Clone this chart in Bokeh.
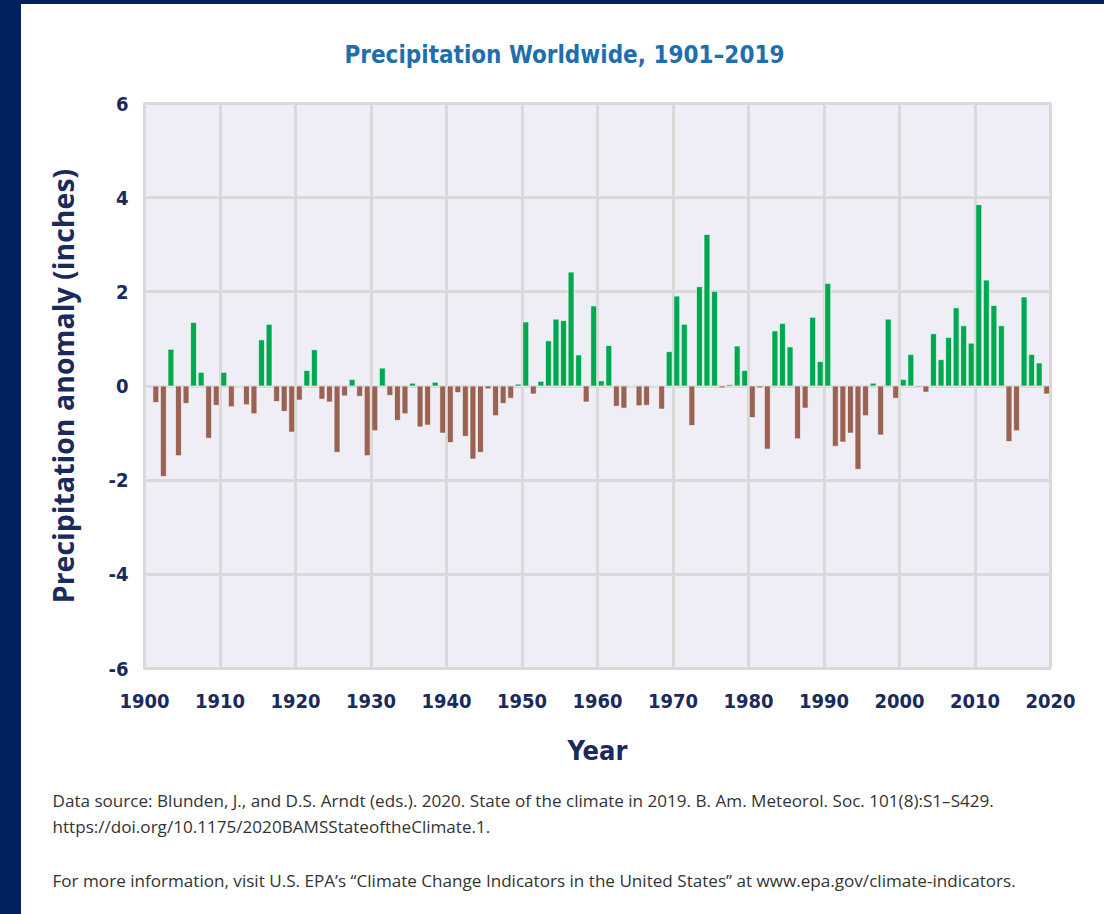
from bokeh.plotting import figure
from bokeh.models import ColumnDataSource, Title, Div, FixedTicker
from bokeh.layouts import row, column
from bokeh.transform import dodge
from bokeh.embed import file_html
from bokeh.resources import INLINE

# ---- data ----
years = list(range(1901, 2020))
anomaly = [
    -0.35, -1.92, 0.78, -1.48, -0.37, 1.35, 0.29, -1.11, -0.41, 0.29,   # 1901-1910
    -0.44, 0.01, -0.40, -0.59, 0.98, 1.31, -0.33, -0.54, -0.98, -0.30,  # 1911-1920
    0.33, 0.77, -0.28, -0.34, -1.41, -0.21, 0.14, -0.22, -1.48, -0.95,  # 1921-1930
    0.38, -0.20, -0.73, -0.59, 0.06, -0.87, -0.83, 0.08, -1.00, -1.20,  # 1931-1940
    -0.14, -1.07, -1.55, -1.41, -0.06, -0.63, -0.37, -0.26, 0.04, 1.36, # 1941-1950
    -0.17, 0.10, 0.96, 1.42, 1.39, 2.42, 0.66, -0.34, 1.70, 0.11,       # 1951-1960
    0.86, -0.43, -0.47, 0.01, -0.42, -0.41, 0.01, -0.49, 0.73, 1.91,    # 1961-1970
    1.31, -0.84, 2.11, 3.22, 2.01, -0.04, 0.03, 0.85, 0.33, -0.67,      # 1971-1980
    -0.04, -1.34, 1.17, 1.33, 0.83, -1.12, -0.47, 1.46, 0.52, 2.18,     # 1981-1990
    -1.28, -1.19, -1.00, -1.77, -0.63, 0.06, -1.04, 1.42, -0.26, 0.14,  # 1991-2000
    0.67, -0.02, -0.13, 1.11, 0.56, 1.03, 1.66, 1.28, 0.91, 3.85,       # 2001-2010
    2.25, 1.71, 1.28, -1.18, -0.95, 1.89, 0.67, 0.49, -0.17,            # 2011-2019
]
x_ticks = [1900, 1910, 1920, 1930, 1940, 1950, 1960, 1970, 1980, 1990, 2000, 2010, 2020]
y_ticks = [-6, -4, -2, 0, 2, 4, 6]
y_tick_labels = ["-6", "-4", "-2", "0", "2", "4", "6"]

title_text = "Precipitation Worldwide, 1901\u20132019"
x_label = "Year"
y_label = "Precipitation anomaly (inches)"
note1 = ("Data source: Blunden, J., and D.S. Arndt (eds.). 2020. State of the climate in 2019. "
         "B. Am. Meteorol. Soc. 101(8):S1\u2013S429.")
note2 = "https://doi.org/10.1175/2020BAMSStateoftheClimate.1."
note3 = ("For more information, visit U.S. EPA\u2019s \u201cClimate Change Indicators in the United States\u201d "
         "at www.epa.gov/climate-indicators.")

# ---- styles ----
GREEN = "#00a94f"
BROWN = "#9a6252"
NAVY = "#1b2a5c"
FRAME = "#002060"
TITLE_BLUE = "#1f6fae"
GRID = "#d9d9d9"
BG = "#efedf6"
COND = "DejaVu Sans Condensed, Roboto"

colors = [GREEN if v >= 0 else BROWN for v in anomaly]
src = ColumnDataSource(dict(year=years, anomaly=anomaly, color=colors))

p = figure(width=1083, height=910, x_range=(1900, 2020), y_range=(-6, 6),
           output_backend="svg", toolbar_location=None,
           min_border_left=123, min_border_right=54, min_border_top=99, min_border_bottom=246)

p.vbar(x=dodge("year", 0.5), top="anomaly", bottom=0, width=0.78, source=src,
       fill_color="color", line_color="white", line_alpha=0.6, line_width=1)

p.background_fill_color = BG
p.border_fill_color = "white"
p.outline_line_color = GRID
p.outline_line_width = 3

p.xaxis.ticker = FixedTicker(ticks=x_ticks)
p.yaxis.ticker = FixedTicker(ticks=y_ticks)
p.xgrid.ticker = FixedTicker(ticks=x_ticks)
p.ygrid.ticker = FixedTicker(ticks=y_ticks)
p.yaxis.major_label_overrides = {t: s for t, s in zip(y_ticks, y_tick_labels)}
for g in (p.xgrid, p.ygrid):
    g.grid_line_color = GRID
    g.grid_line_width = 3

for ax in (p.xaxis, p.yaxis):
    ax.axis_line_color = None
    ax.major_tick_line_color = None
    ax.minor_tick_line_color = None
    ax.major_label_text_font = COND
    ax.major_label_text_font_style = "bold"
    ax.major_label_text_font_size = "20px"
    ax.major_label_text_color = NAVY
    ax.axis_label_text_color = NAVY
    ax.axis_label_text_font_style = "bold"

p.xaxis.major_label_standoff = 19
p.yaxis.major_label_standoff = 10
p.xaxis.axis_label = x_label
p.xaxis.axis_label_text_font = COND
p.xaxis.axis_label_text_font_size = "27px"
p.xaxis.axis_label_standoff = 24
p.yaxis.axis_label = y_label
p.yaxis.axis_label_text_font = "Open Sans"
p.yaxis.axis_label_text_font_size = "28.5px"
p.yaxis.axis_label_standoff = 24

p.title.text = title_text
p.title.align = "left"
p.title.offset = 200
p.title.vertical_align = "top"
p.title.text_font = COND
p.title.text_font_style = "bold"
p.title.text_font_size = "24px"
p.title.text_color = TITLE_BLUE
p.title.standoff = 66

note_a = Title(text=note1 + "\n" + note2, align="left", offset=-92, standoff=41,
               vertical_align="top", text_line_height=1.13,
               text_font="Open Sans", text_font_size="17.1px", text_font_style="normal",
               text_color="#333333")
note_b = Title(text=note3, align="left", offset=-92, standoff=16,
               vertical_align="top",
               text_font="Open Sans", text_font_size="17.1px", text_font_style="normal",
               text_color="#333333")
p.add_layout(note_a, "below")
p.add_layout(note_b, "below")

left_strip = Div(text="", width=21, height=914, margin=0, styles={"background-color": FRAME})
top_strip = Div(text="", width=1083, height=4, margin=0, styles={"background-color": FRAME})
layout = row(left_strip, column(top_strip, p, spacing=0), spacing=0)

open("out.html", "w").write(file_html(layout, INLINE))
